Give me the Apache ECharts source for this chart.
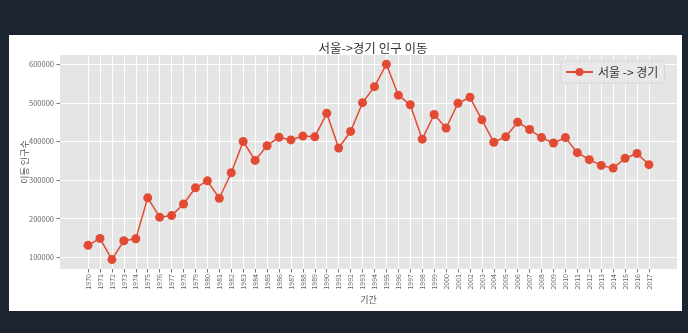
<!DOCTYPE html>
<html><head><meta charset="utf-8">
<script src="https://cdn.jsdelivr.net/npm/echarts@6/dist/echarts.min.js"></script>
<style>html,body{margin:0;padding:0;background:#1b2430;}#c{width:688px;height:333px;}</style>
</head><body><div id="c"></div>
<script>
const years = [1970,1971,1972,1973,1974,1975,1976,1977,1978,1979,1980,1981,1982,1983,1984,1985,1986,1987,1988,1989,1990,1991,1992,1993,1994,1995,1996,1997,1998,1999,2000,2001,2002,2003,2004,2005,2006,2007,2008,2009,2010,2011,2012,2013,2014,2015,2016,2017];
const moves = [131000,149000,94000,143000,148000,254000,204000,208000,238000,280000,298000,253000,319000,400000,351000,389000,411000,404000,414000,412000,473000,383000,426000,500500,542000,600000,520000,495000,406000,470000,435000,499000,514500,456000,398000,412000,450000,431000,410000,396000,410000,371000,353000,338000,331000,356500,369000,340000];
const yTicks = [100000,200000,300000,400000,500000,600000];
const title = '서울->경기 인구 이동';
const seriesName = '서울 -> 경기';
const xName = '기간';
const yName = '이동 인구수';

const font = "'Noto Sans CJK KR', 'Noto Sans', sans-serif";
const chart = echarts.init(document.getElementById('c'));
const data = years.map((y,i)=>[y, moves[i]]);
chart.setOption({
  backgroundColor: '#1b2430',
  animation: false,
  textStyle: {fontFamily: font},
  graphic: [{type:'rect', z:-10, shape:{x:9,y:35,width:673,height:276}, style:{fill:'#ffffff'}}],
  title: {text: title, left: 368, top: 37, textAlign: 'center',
    textStyle:{fontSize:12.5, fontWeight:'normal', color:'#333', fontFamily: font}},
  legend: {left: 561, top: 61, padding:[5,6,5,4], itemWidth: 27, itemHeight: 10,
    backgroundColor:'#e8e8e8', borderColor:'#d6d6d6', borderWidth:1, borderRadius:3,
    textStyle:{fontSize:12, color:'#333', fontFamily: font}, data:[seriesName]},
  grid: {left: 60, top: 55, right: 11, bottom: 64, show: true, backgroundColor:'#e5e5e5', borderWidth:0},
  xAxis: {type:'value', min: 1967.65, max: 2019.35,
    name: xName, nameLocation:'middle', nameGap: 26, nameMoveOverlap: false,
    nameTextStyle:{fontSize:9, color:'#555', fontFamily: font},
    axisLine:{show:false},
    axisTick:{show:true, customValues: years, length:3.5, lineStyle:{color:'#555', width:0.8}},
    axisLabel:{customValues: years, rotate:90, fontSize:7, color:'#666', margin:5, formatter: v=>String(v)},
    splitLine:{show:true, lineStyle:{color:'#ffffff', width:1}}},
  yAxis: {type:'value', min: 69700, max: 624000,
    name: yName, nameLocation:'middle', nameGap: 31, nameMoveOverlap: false,
    nameTextStyle:{fontSize:9, color:'#555', fontFamily: font},
    axisLine:{show:false},
    axisTick:{show:true, customValues: yTicks, length:3.5, lineStyle:{color:'#555', width:0.8}},
    axisLabel:{customValues: yTicks, fontSize:7.5, color:'#666', margin:6, formatter: v=>String(v)},
    splitLine:{show:true, lineStyle:{color:'#ffffff', width:1}}},
  series: [{type:'line', name: seriesName, data: data, symbol:'circle', symbolSize:9,
    itemStyle:{color:'#E24A33'}, lineStyle:{color:'#E24A33', width:1.5}}]
});
</script></body></html>
